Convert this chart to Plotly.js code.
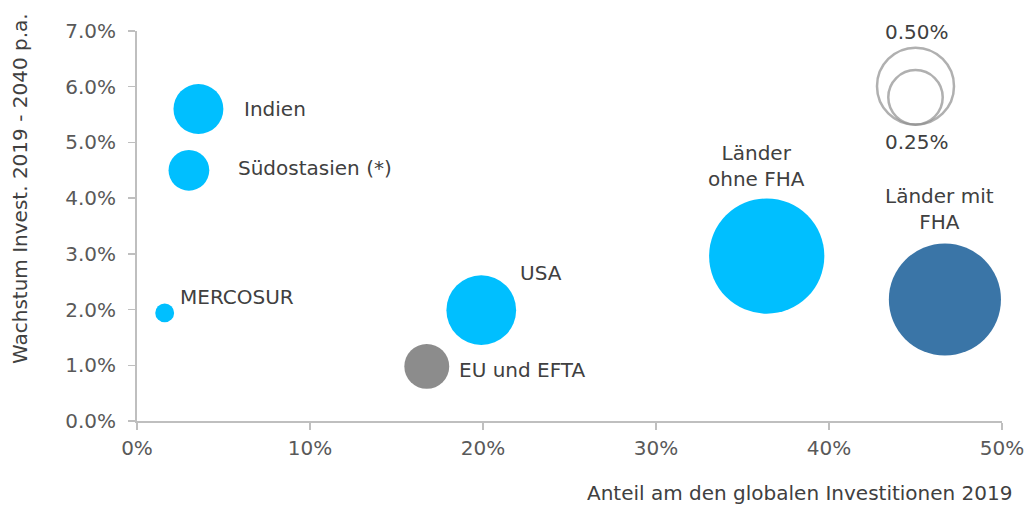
<!DOCTYPE html>
<html>
<head>
<meta charset="utf-8">
<script src="https://cdn.plot.ly/plotly-3.0.1.min.js"></script>
<style>html,body{margin:0;padding:0;background:#fff;}#chart{width:1029px;height:506px;}</style>
</head>
<body>
<div id="chart"></div>
<script>
// ---- data ----
var regions = ['Indien', 'Südostasien (*)', 'MERCOSUR', 'USA', 'EU und EFTA', 'Länder ohne FHA', 'Länder mit FHA'];
var labels = ['Indien', 'Südostasien (*)', 'MERCOSUR', 'USA', 'EU und EFTA', 'Länder<br>ohne FHA', 'Länder mit<br>FHA'];
var shareInvest2019 = [3.55, 3.0, 1.6, 19.9, 16.75, 36.4, 46.7];     // x, %
var growth2019_2040 = [5.6, 4.5, 1.94, 1.99, 0.98, 2.96, 2.18];     // y, % p.a.
var bubbleSize = [0.21, 0.14, 0.03, 0.41, 0.17, 1.12, 1.06];        // size, %
var legendSizes = [0.50, 0.25];
var legendLabels = ['0.50%', '0.25%'];
var xTickVals = [0, 10, 20, 30, 40, 50];
var xTickText = ['0%', '10%', '20%', '30%', '40%', '50%'];
var yTickVals = [0, 1, 2, 3, 4, 5, 6, 7];
var yTickText = ['0.0%', '1.0%', '2.0%', '3.0%', '4.0%', '5.0%', '6.0%', '7.0%'];

// ---- styles ----
var CYAN = '#00BFFF', DARKBLUE = '#3A75A7', GREY = '#8C8C8C';
var pointColors = [CYAN, CYAN, CYAN, CYAN, GREY, CYAN, DARKBLUE];
var SIZEREF = 0.25 / (38.5 * 38.5);
var FONT = 'DejaVu Sans';
var TXT = '#404040';

// label placement (data coords)
var labelPos = [
  {x: 6.05, y: 5.6, xa: 'left'},
  {x: 5.7, y: 4.55, xa: 'left'},
  {x: 2.35, y: 2.22, xa: 'left'},
  {x: 22.0, y: 2.65, xa: 'left'},
  {x: 18.5, y: 0.92, xa: 'left'},
  {x: 35.8, y: 4.58, xa: 'center'},
  {x: 46.4, y: 3.8, xa: 'center'}
];

var bubbles = {
  type: 'scatter', mode: 'markers',
  x: shareInvest2019, y: growth2019_2040, text: regions,
  marker: {size: bubbleSize, sizemode: 'area', sizeref: SIZEREF, color: pointColors, opacity: 1, line: {width: 0}},
  cliponaxis: false, hoverinfo: 'text', showlegend: false
};

var legendBubbles = {
  type: 'scatter', mode: 'markers',
  x: [45.0, 45.0], y: [6.01, 5.81],
  marker: {size: legendSizes, sizemode: 'area', sizeref: SIZEREF, color: 'rgba(0,0,0,0)', line: {width: 2.5, color: '#8F8F8F'}},
  cliponaxis: false, hoverinfo: 'skip', showlegend: false
};

var annotations = labels.map(function (t, i) {
  return {x: labelPos[i].x, y: labelPos[i].y, xref: 'x', yref: 'y', text: t, showarrow: false,
    xanchor: labelPos[i].xa, yanchor: 'middle', align: 'center', font: {family: FONT, size: 20, color: TXT}};
});
annotations.push({x: 45.1, y: 6.98, xref: 'x', yref: 'y', text: legendLabels[0], showarrow: false, xanchor: 'center', yanchor: 'middle', font: {family: FONT, size: 20, color: TXT}});
annotations.push({x: 45.1, y: 5.0, xref: 'x', yref: 'y', text: legendLabels[1], showarrow: false, xanchor: 'center', yanchor: 'middle', font: {family: FONT, size: 20, color: TXT}});
annotations.push({x: 20, y: 189, xref: 'paper', yref: 'paper', text: 'Wachstum Invest. 2019 - 2040 p.a.', showarrow: false,
  textangle: -90, xanchor: 'center', yanchor: 'middle', font: {family: FONT, size: 20, color: TXT}});
annotations.push({x: 1015, y: 493, xref: 'paper', yref: 'paper', text: 'Anteil am den globalen Investitionen 2019', showarrow: false,
  xanchor: 'right', yanchor: 'middle', font: {family: FONT, size: 20, color: TXT}});

// convert the two axis-title annotations from pixel to paper coords
var W = 1029, H = 506, L = 137, R = 27, T = 31, B = 85;
var pw = W - L - R, ph = H - T - B;
[annotations[annotations.length - 2], annotations[annotations.length - 1]].forEach(function (a) {
  a.x = (a.x - L) / pw;
  a.y = 1 - (a.y - T) / ph;
});

var layout = {
  width: W, height: H,
  margin: {l: L, r: R, t: T, b: B, pad: 0},
  paper_bgcolor: '#ffffff', plot_bgcolor: '#ffffff',
  font: {family: FONT, size: 20, color: '#595959'},
  xaxis: {range: [0, 50], tickmode: 'array', tickvals: xTickVals, ticktext: xTickText, showgrid: false, zeroline: false,
    showline: true, linecolor: '#BFBFBF', linewidth: 2, ticks: 'outside', ticklen: 7, tickcolor: '#BFBFBF', tickwidth: 1.5,
    tickfont: {family: FONT, size: 20, color: '#595959'}, ticklabelstandoff: 1, fixedrange: true},
  yaxis: {range: [0, 7], tickmode: 'array', tickvals: yTickVals, ticktext: yTickText, showgrid: false, zeroline: false,
    showline: true, linecolor: '#BFBFBF', linewidth: 2, ticks: 'outside', ticklen: 7, tickcolor: '#BFBFBF', tickwidth: 1.5,
    tickfont: {family: FONT, size: 20, color: '#595959'}, ticklabelstandoff: 8, fixedrange: true},
  annotations: annotations,
  showlegend: false
};

Plotly.newPlot('chart', [bubbles, legendBubbles], layout, {displayModeBar: false, staticPlot: true});
</script>
</body>
</html>
